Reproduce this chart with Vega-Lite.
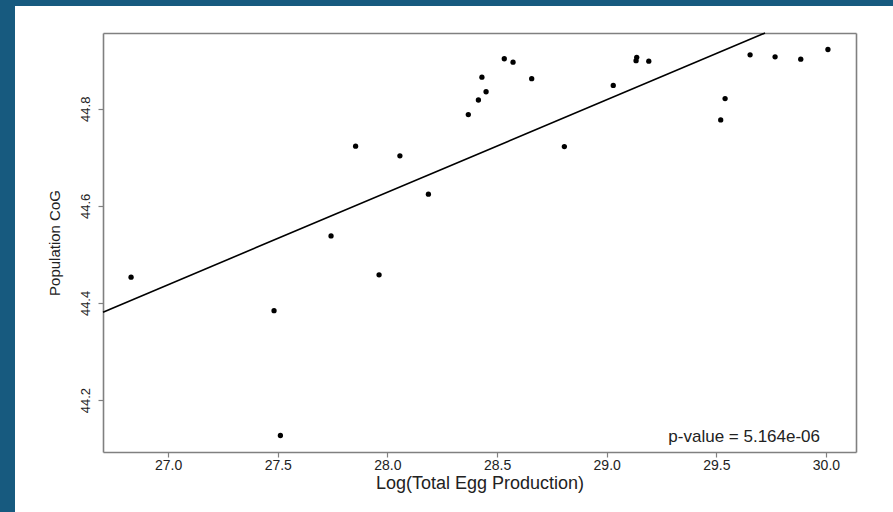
{
  "$schema": "https://vega.github.io/schema/vega-lite/v6.json",
  "width": 878,
  "height": 506,
  "autosize": {"type": "none"},
  "padding": {"left": 15, "top": 6, "right": 0, "bottom": 0},
  "background": "#175a7f",
  "config": {
    "view": {"fill": "#ffffff", "stroke": null},
    "font": "Liberation Sans",
    "axis": {
      "domainColor": "#808080",
      "domainWidth": 1.6,
      "tickColor": "#808080",
      "tickWidth": 1.2,
      "tickSize": 5,
      "labelColor": "#222222",
      "titleColor": "#222222",
      "labelFont": "Liberation Sans",
      "titleFont": "Liberation Sans",
      "titleFontWeight": "normal",
      "grid": false
    }
  },
  "datasets": {
    "pts": [
      {"egg": 26.831, "cog": 44.453},
      {"egg": 27.483, "cog": 44.384},
      {"egg": 27.512, "cog": 44.127},
      {"egg": 27.743, "cog": 44.538},
      {"egg": 27.855, "cog": 44.723},
      {"egg": 27.962, "cog": 44.458},
      {"egg": 28.057, "cog": 44.703},
      {"egg": 28.187, "cog": 44.624},
      {"egg": 28.369, "cog": 44.788},
      {"egg": 28.415, "cog": 44.818},
      {"egg": 28.431, "cog": 44.865},
      {"egg": 28.450, "cog": 44.835},
      {"egg": 28.533, "cog": 44.903},
      {"egg": 28.573, "cog": 44.896},
      {"egg": 28.658, "cog": 44.862},
      {"egg": 28.807, "cog": 44.722},
      {"egg": 29.030, "cog": 44.848},
      {"egg": 29.137, "cog": 44.906},
      {"egg": 29.134, "cog": 44.899},
      {"egg": 29.192, "cog": 44.898},
      {"egg": 29.520, "cog": 44.777},
      {"egg": 29.540, "cog": 44.821},
      {"egg": 29.654, "cog": 44.911},
      {"egg": 29.768, "cog": 44.907},
      {"egg": 29.885, "cog": 44.902},
      {"egg": 30.009, "cog": 44.922}
    ],
    "fit": [
      {"egg": 26.703, "cog": 44.381},
      {"egg": 29.722, "cog": 44.956}
    ],
    "note": [
      {"egg": 29.973, "cog": 44.1245, "label": "p-value = 5.164e-06"}
    ]
  },
  "layer": [
    {
      "data": {"name": "pts"},
      "mark": {"type": "point", "filled": true, "color": "#000000", "size": 28, "opacity": 1},
      "encoding": {
        "x": {
          "field": "egg", "type": "quantitative",
          "scale": {"domain": [26.703, 30.137], "range": [88, 841], "zero": false, "nice": false},
          "axis": {
            "orient": "bottom", "offset": -60, "title": "Log(Total Egg Production)",
            "values": [27.0, 27.5, 28.0, 28.5, 29.0, 29.5, 30.0], "format": ".1f",
            "labelFontSize": 14, "labelPadding": 1, "titleFontSize": 18, "titlePadding": 2
          }
        },
        "y": {
          "field": "cog", "type": "quantitative",
          "scale": {"domain": [44.093, 44.956], "range": [446, 27], "zero": false, "nice": false},
          "axis": {
            "orient": "left", "offset": -88, "title": "Population CoG",
            "values": [44.2, 44.4, 44.6, 44.8], "format": ".1f",
            "labelAngle": -90, "labelAlign": "center", "labelBaseline": "bottom",
            "labelFontSize": 13, "labelPadding": 6, "titleFontSize": 15, "titlePadding": 17
          }
        }
      }
    },
    {
      "data": {"name": "fit"},
      "mark": {"type": "line", "color": "#000000", "strokeWidth": 1.6},
      "encoding": {
        "x": {
          "field": "egg", "type": "quantitative",
          "axis": {"orient": "top", "offset": -27, "labels": false, "ticks": false, "title": null}
        },
        "y": {
          "field": "cog", "type": "quantitative",
          "axis": {"orient": "right", "offset": -37, "labels": false, "ticks": false, "title": null}
        }
      }
    },
    {
      "data": {"name": "note"},
      "mark": {"type": "text", "align": "right", "baseline": "middle", "fontSize": 17, "color": "#222222", "font": "Liberation Sans"},
      "encoding": {
        "x": {"field": "egg", "type": "quantitative", "axis": null},
        "y": {"field": "cog", "type": "quantitative", "axis": null},
        "text": {"field": "label"}
      }
    }
  ],
  "resolve": {"axis": {"x": "independent", "y": "independent"}}
}
